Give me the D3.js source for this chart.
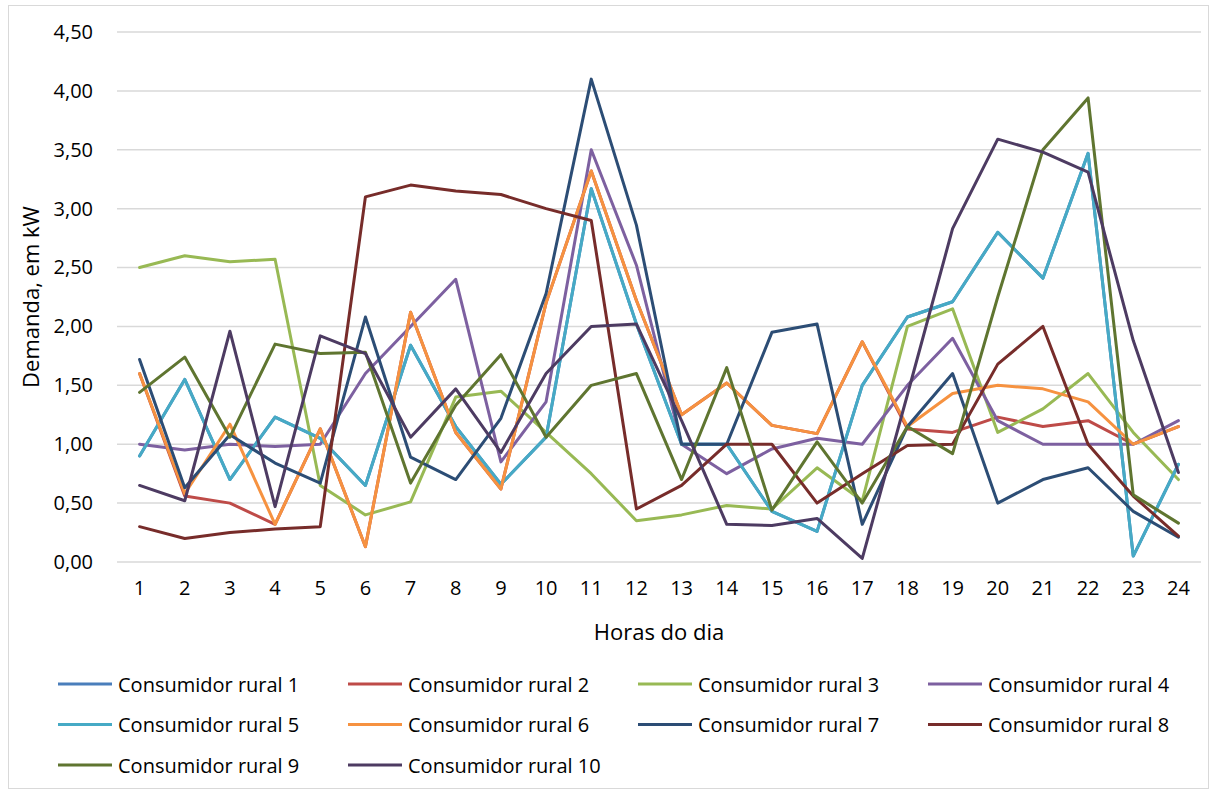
<!DOCTYPE html>
<html>
<head>
<meta charset="utf-8">
<script src="https://cdn.jsdelivr.net/npm/d3@7"></script>
<style>
  body { margin: 0; background: #fff; }
  text { font-family: "Open Sans", "Noto Sans", sans-serif; fill: #000; }
</style>
</head>
<body>
<div id="chart"></div>
<script>
//Datos
const horas = d3.range(1, 25);
const yTicks = [0, 0.5, 1, 1.5, 2, 2.5, 3, 3.5, 4, 4.5];
const nombres = ['Consumidor rural 1','Consumidor rural 2','Consumidor rural 3','Consumidor rural 4','Consumidor rural 5',
  'Consumidor rural 6','Consumidor rural 7','Consumidor rural 8','Consumidor rural 9','Consumidor rural 10'];
const colores = ['#4A7EBB','#BE4B48','#98B954','#7D60A0','#46AAC5','#F69240','#2C4D75','#772C2A','#5F7530','#4D3B62'];

const rural1 = [0.90,1.55,0.70,1.23,1.05,0.65,1.84,1.15,0.66,1.06,3.17,2.02,1.00,1.00,0.43,0.26,1.50,2.08,2.21,2.80,2.41,3.47,0.05,0.83];
const rural2 = [1.60,0.56,0.50,0.32,1.13,0.13,2.12,1.10,0.62,2.20,3.32,2.22,1.25,1.52,1.16,1.09,1.87,1.13,1.10,1.23,1.15,1.20,1.00,1.15];
const rural3 = [2.50,2.60,2.55,2.57,0.65,0.40,0.51,1.40,1.45,1.10,0.75,0.35,0.40,0.48,0.45,0.80,0.52,2.00,2.15,1.10,1.30,1.60,1.10,0.70];
const rural4 = [1.00,0.95,1.00,0.98,1.00,1.60,2.00,2.40,0.85,1.36,3.50,2.52,1.00,0.75,0.96,1.05,1.00,1.50,1.90,1.20,1.00,1.00,1.00,1.20];
const rural5 = [0.90,1.55,0.70,1.23,1.05,0.65,1.84,1.15,0.66,1.06,3.17,2.02,1.00,1.00,0.43,0.26,1.50,2.08,2.21,2.80,2.41,3.47,0.05,0.83];
const rural6 = [1.60,0.58,1.17,0.32,1.13,0.13,2.12,1.10,0.62,2.20,3.32,2.22,1.25,1.52,1.16,1.09,1.87,1.15,1.43,1.50,1.47,1.36,1.00,1.15];
const rural7 = [1.72,0.63,1.08,0.84,0.67,2.08,0.89,0.70,1.22,2.28,4.10,2.86,1.00,1.00,1.95,2.02,0.32,1.15,1.60,0.50,0.70,0.80,0.43,0.21];
const rural8 = [0.30,0.20,0.25,0.28,0.30,3.10,3.20,3.15,3.12,3.00,2.90,0.45,0.65,1.00,1.00,0.50,0.75,0.99,1.00,1.68,2.00,1.00,0.56,0.22];
const rural9 = [1.44,1.74,1.06,1.85,1.77,1.78,0.67,1.33,1.76,1.06,1.50,1.60,0.70,1.65,0.44,1.02,0.50,1.15,0.92,2.25,3.50,3.94,0.57,0.33];
const rural10 = [0.65,0.52,1.96,0.47,1.92,1.77,1.06,1.47,0.93,1.60,2.00,2.02,1.20,0.32,0.31,0.37,0.03,1.42,2.83,3.59,3.48,3.31,1.88,0.76];

const series = [rural1, rural2, rural3, rural4, rural5, rural6, rural7, rural8, rural9, rural10]
  .map(function(v, i) { return { nombre: nombres[i], color: colores[i], valores: v }; });

//Dimensiones
const W = 1217, H = 793;
let margin = {top: 32, right: 16, bottom: 231, left: 117},
    width = W - margin.left - margin.right,
    height = H - margin.top - margin.bottom;

let svgRoot = d3.select('#chart').append('svg')
  .attr('width', W).attr('height', H);

svgRoot.append('rect')
  .attr('x', 8.5).attr('y', 5.5).attr('width', W - 17).attr('height', H - 10)
  .attr('fill', '#fff').attr('stroke', '#d9d9d9').attr('stroke-width', 1);

let svg = svgRoot.append('g')
  .attr('transform', 'translate(' + margin.left + ',' + margin.top + ')');

let x = d3.scaleBand().domain(horas).range([0, width]);
let y = d3.scaleLinear().domain([0, 4.5]).range([height, 0]);

//Grid
svg.append('g')
  .selectAll('line')
  .data(yTicks)
  .enter()
  .append('line')
  .attr('x1', 0).attr('x2', width)
  .attr('y1', function(d) { return y(d); })
  .attr('y2', function(d) { return y(d); })
  .attr('stroke', '#d9d9d9').attr('stroke-width', 1.5);

//Ejes
let fmt = function(d) { return d3.format('.2f')(d).replace('.', ','); };

let yAxis = svg.append('g')
  .call(d3.axisLeft(y).tickValues(yTicks).tickFormat(fmt).tickSize(0).tickPadding(24));
yAxis.select('.domain').remove();
yAxis.selectAll('text').style('font-size', '20px').style('font-family', '"Open Sans", sans-serif');

let xAxis = svg.append('g')
  .attr('transform', 'translate(0,' + height + ')')
  .call(d3.axisBottom(x).tickSize(0).tickPadding(19));
xAxis.select('.domain').remove();
xAxis.selectAll('text').style('font-size', '20px').style('font-family', '"Open Sans", sans-serif');

svg.append('text')
  .attr('x', width / 2).attr('y', height + 78)
  .attr('text-anchor', 'middle')
  .style('font-size', '22px')
  .text('Horas do dia');

svg.append('text')
  .attr('transform', 'translate(' + (30 - margin.left) + ',' + (height / 2) + ') rotate(-90)')
  .attr('text-anchor', 'middle')
  .attr('dominant-baseline', 'central')
  .style('font-size', '22px')
  .text('Demanda, em kW');

//Líneas
let line = d3.line()
  .x(function(d, i) { return x(horas[i]) + x.bandwidth() / 2; })
  .y(function(d) { return y(d); });

svg.append('g')
  .selectAll('path')
  .data(series)
  .enter()
  .append('path')
  .attr('d', function(d) { return line(d.valores); })
  .attr('fill', 'none')
  .attr('stroke', function(d) { return d.color; })
  .attr('stroke-width', 3)
  .attr('stroke-linejoin', 'round')
  .attr('stroke-linecap', 'round');

//Leyenda
let legend = svgRoot.append('g')
  .selectAll('g')
  .data(series)
  .enter()
  .append('g')
  .attr('transform', function(d, i) { return 'translate(' + (58 + (i % 4) * 290) + ',' + (684 + Math.floor(i / 4) * 40.5) + ')'; });

legend.append('line')
  .attr('x1', 0).attr('x2', 54)
  .attr('stroke', function(d) { return d.color; })
  .attr('stroke-width', 3);

legend.append('text')
  .attr('x', 60)
  .attr('dominant-baseline', 'central')
  .style('font-size', '20px')
  .text(function(d) { return d.nombre; });
</script>
</body>
</html>
